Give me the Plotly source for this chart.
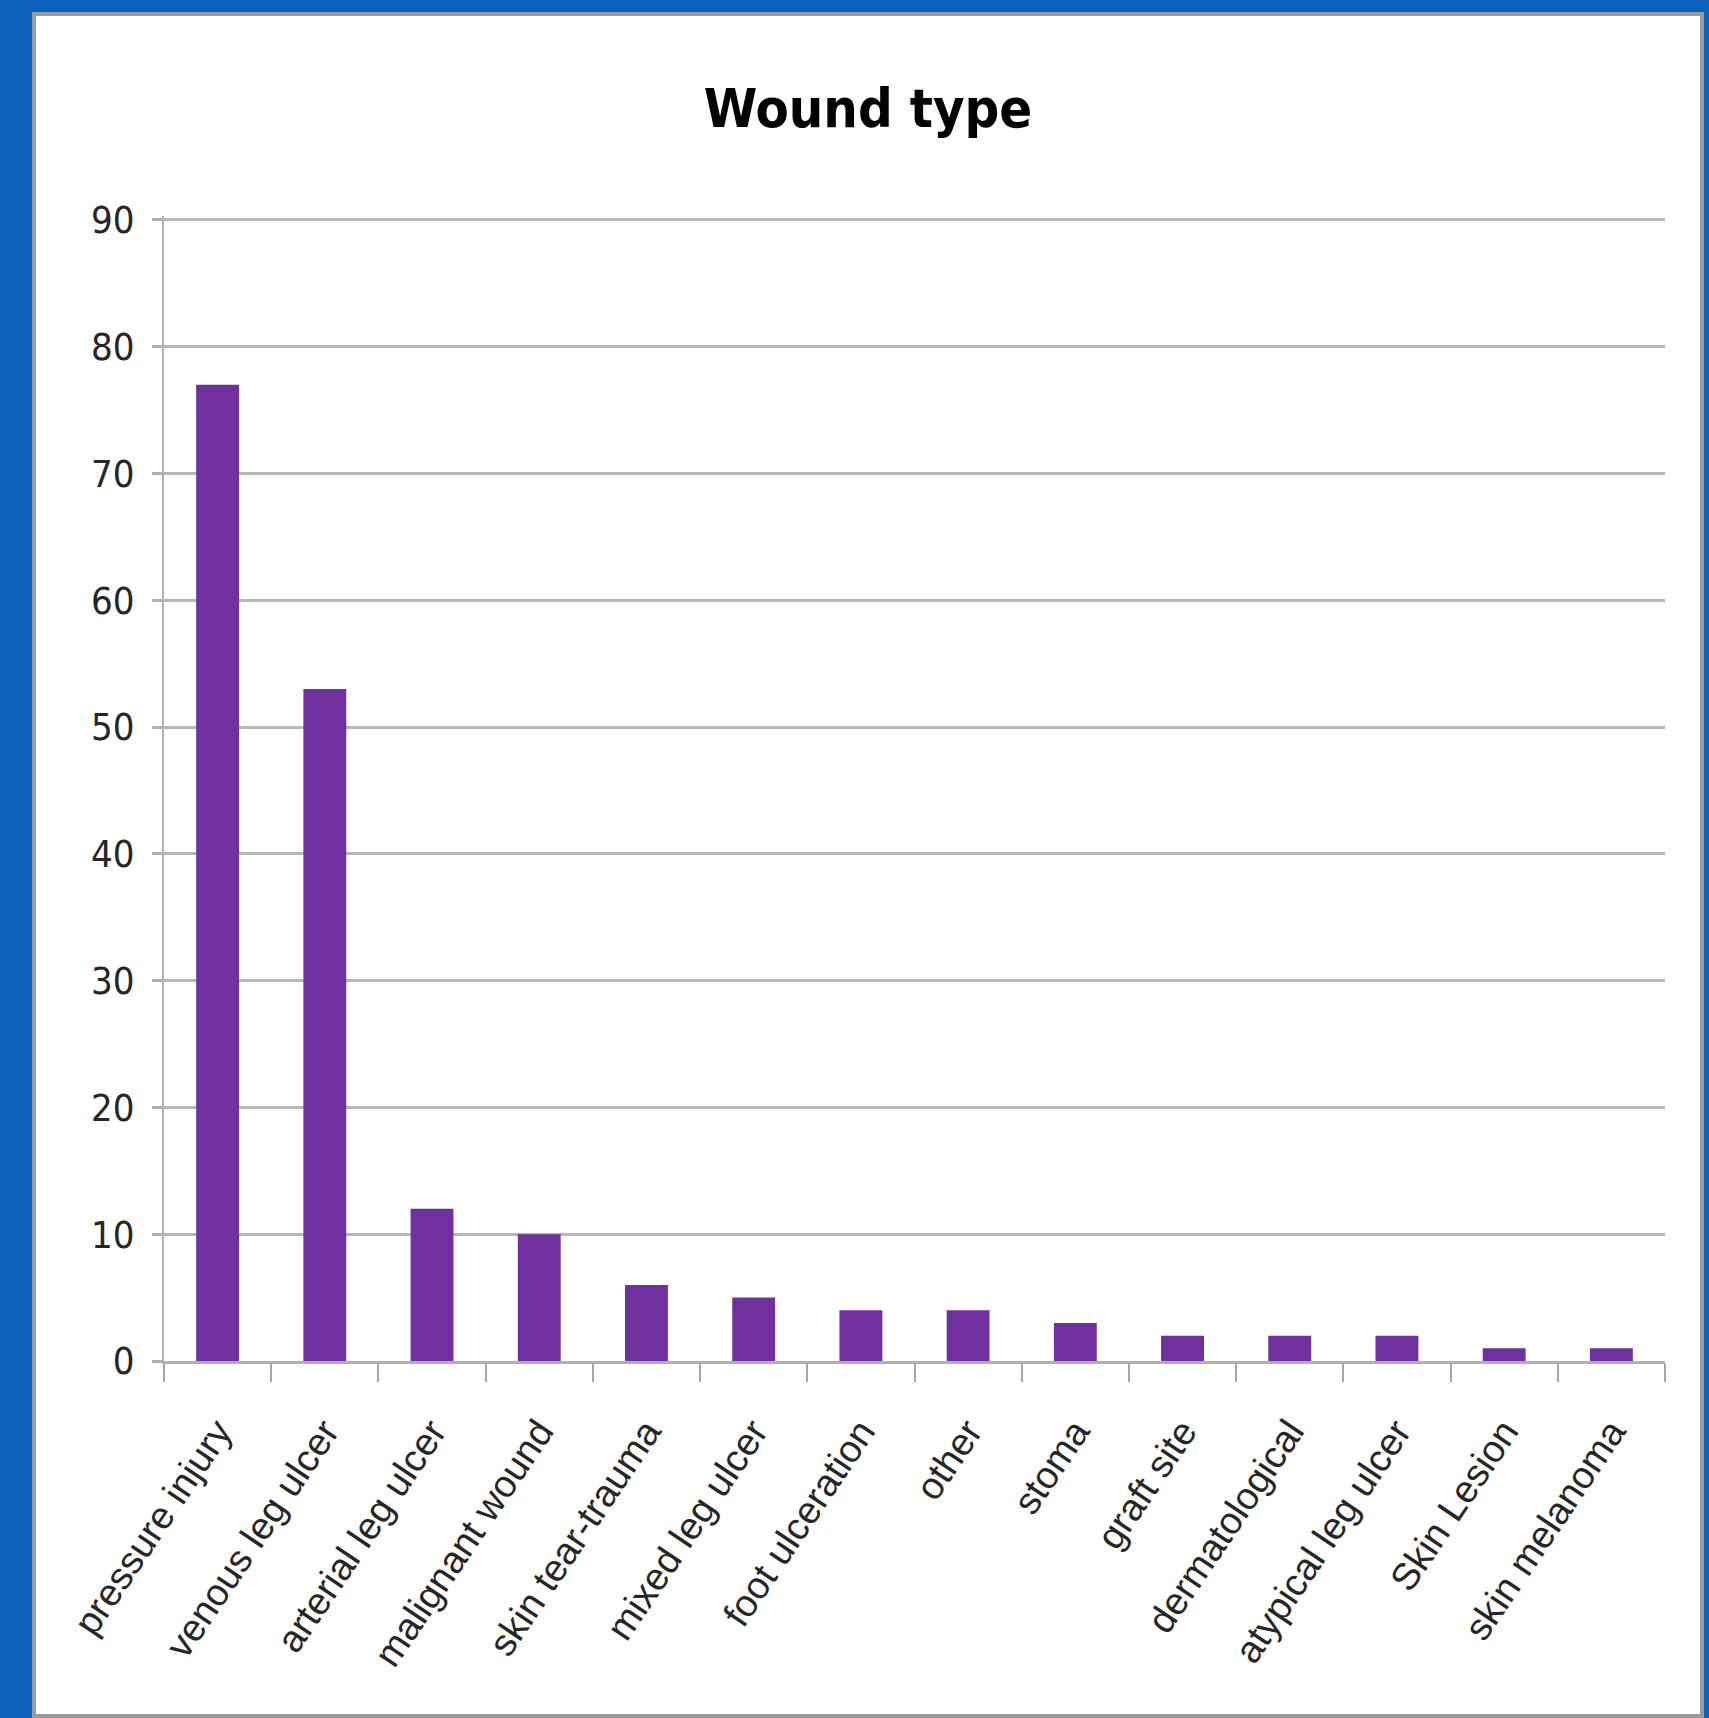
import plotly.graph_objects as go

categories = ["pressure injury", "venous leg ulcer", "arterial leg ulcer", "malignant wound",
              "skin tear-trauma", "mixed leg ulcer", "foot ulceration", "other", "stoma",
              "graft site", "dermatological", "atypical leg ulcer", "Skin Lesion", "skin melanoma"]
counts = [77, 53, 12, 10, 6, 5, 4, 4, 3, 2, 2, 2, 1, 1]
y_ticks = [0, 10, 20, 30, 40, 50, 60, 70, 80, 90]

W, H = 1709, 1718
Y_TOP = 90.3
PX_PER_UNIT = 1141 / 90
ML, MR, MB = 164, 44, 357
MT = round(220 - (Y_TOP - 90) * PX_PER_UNIT)
PW, PH = W - ML - MR, H - MT - MB

def px_x(px):
    return (px - ML) / PW

def px_y(py):
    return (H - MB - py) / PH

COND = "DejaVu Sans Condensed, Liberation Sans, Arial"

fig = go.Figure()
fig.add_trace(go.Bar(x=categories, y=counts, marker=dict(color="#7030A0", line=dict(width=0))))

fig.add_shape(type="rect", xref="paper", yref="paper", layer="below",
              x0=px_x(34), x1=px_x(1702), y0=px_y(1716), y1=px_y(14),
              fillcolor="white", line=dict(color="#9A9A9A", width=4))

fig.update_layout(
    width=W, height=H,
    margin=dict(l=ML, r=MR, t=MT, b=MB, pad=0),
    paper_bgcolor="#0A62BB",
    plot_bgcolor="rgba(0,0,0,0)",
    bargap=0.6,
    showlegend=False,
    title=dict(text="<b>Wound type</b>", x=868 / W, xref="container", xanchor="center",
               y=1 - 108 / H, yref="container", yanchor="middle",
               font=dict(family=COND, size=54, color="#000000")),
    xaxis=dict(type="category", tickson="boundaries", ticks="outside", ticklen=18,
               tickcolor="#A6A6A6", tickwidth=2, showline=True, linecolor="#B0B0B0", linewidth=3,
               showgrid=False, tickangle=-56, ticklabelstandoff=30,
               tickfont=dict(family="Liberation Sans, Arial", size=38, color="#262626")),
    yaxis=dict(range=[0, Y_TOP], tickvals=y_ticks, ticks="outside", ticklen=10,
               tickcolor="#B0B0B0", tickwidth=3, showline=True, linecolor="#B0B0B0", linewidth=2,
               showgrid=True, gridcolor="#B8B8B8", gridwidth=3, zeroline=False,
               ticklabelstandoff=10,
               tickfont=dict(family=COND, size=38, color="#262626")),
)

fig.write_html("out.html", config={"displayModeBar": False},
               post_script="document.body.style.margin='0';document.body.style.background='#0A62BB';")
